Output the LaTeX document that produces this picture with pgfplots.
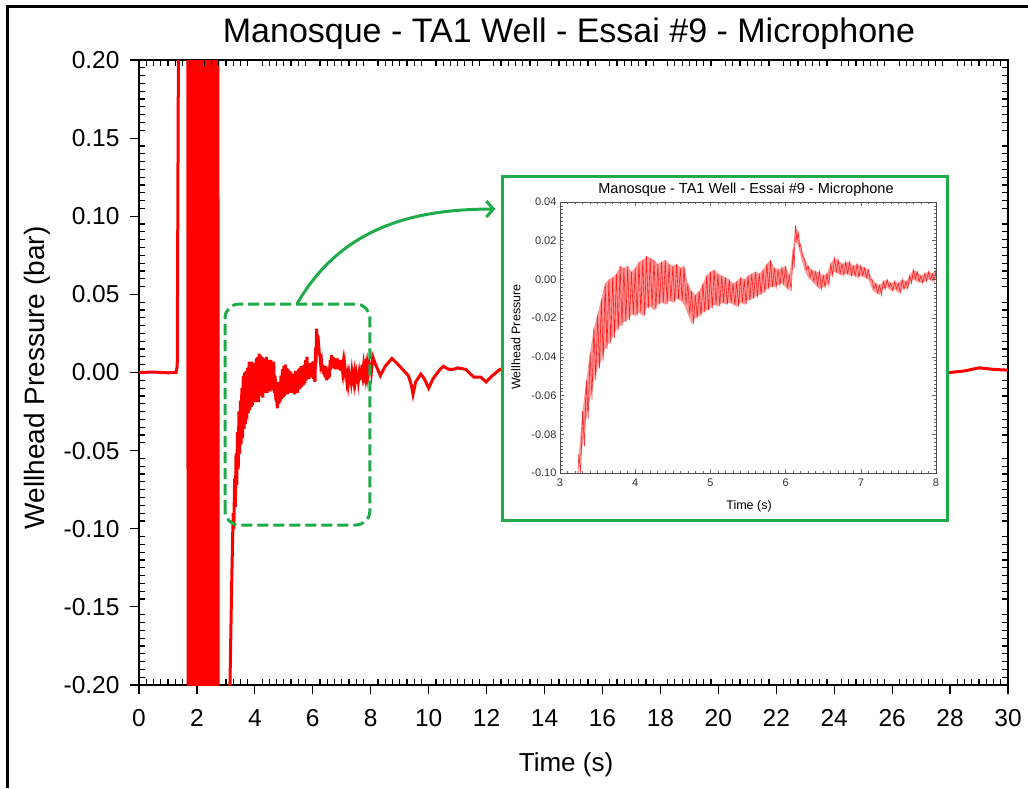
\documentclass[border=0pt]{standalone}
\usepackage{fontspec}
\setmainfont{Liberation Sans}
\usepackage{pgfplots}
\usepackage{pgfplotstable}
\pgfplotsset{compat=1.18}
\usetikzlibrary{arrows.meta}
\definecolor{callgreen}{RGB}{30,172,75}

% microphone trace, wellhead pressure (bar) vs time (s)
\pgfplotstableread{
t p
0.00 0.0000
0.50 0.0003
1.00 -0.0002
1.28 0.0000
1.32 0.004
1.38 0.30
1.66 0.30
1.68 0.40
1.70 -0.40
1.72 0.40
1.74 -0.40
1.76 0.40
1.78 -0.40
1.80 0.40
1.82 -0.40
1.84 0.40
1.86 -0.40
1.88 0.40
1.90 -0.40
1.92 0.40
1.94 -0.40
1.96 0.40
1.98 -0.40
2.00 0.40
2.02 -0.40
2.04 0.40
2.06 -0.40
2.08 0.40
2.10 -0.40
2.12 0.40
2.14 -0.40
2.16 0.40
2.18 -0.40
2.20 0.40
2.22 -0.40
2.24 0.40
2.26 -0.40
2.28 0.40
2.30 -0.40
2.32 0.40
2.34 -0.40
2.36 0.40
2.38 -0.40
2.40 0.40
2.42 -0.40
2.44 0.40
2.46 -0.40
2.48 0.40
2.50 -0.40
2.52 0.40
2.54 -0.40
2.56 0.40
2.58 -0.40
2.60 0.40
2.62 -0.40
2.64 0.40
2.66 -0.40
2.68 0.40
2.70 -0.40
2.72 0.40
2.74 -0.40
3.02 -0.30
3.14 -0.20
3.20 -0.135
3.250 -0.090
3.275 -0.100
3.300 -0.068
3.325 -0.086
3.350 -0.052
3.375 -0.072
3.400 -0.038
3.425 -0.062
3.450 -0.025
3.475 -0.052
3.500 -0.018
3.525 -0.046
3.550 -0.010
3.575 -0.042
3.600 -0.002
3.625 -0.036
3.650 0.000
3.675 -0.033
3.700 0.001
3.725 -0.030
3.750 0.003
3.775 -0.026
3.800 0.007
3.825 -0.024
3.850 0.006
3.875 -0.022
3.900 0.007
3.925 -0.021
3.950 0.004
3.975 -0.018
4.000 0.006
4.025 -0.019
4.050 0.009
4.075 -0.017
4.100 0.010
4.125 -0.019
4.150 0.012
4.175 -0.015
4.200 0.011
4.225 -0.014
4.250 0.010
4.275 -0.016
4.300 0.008
4.325 -0.013
4.350 0.009
4.375 -0.012
4.400 0.010
4.425 -0.013
4.450 0.008
4.475 -0.011
4.500 0.007
4.525 -0.012
4.550 0.008
4.575 -0.010
4.600 0.006
4.625 -0.011
4.650 0.007
4.675 -0.013
4.700 -0.002
4.725 -0.018
4.750 -0.006
4.775 -0.023
4.800 -0.008
4.825 -0.020
4.850 -0.006
4.875 -0.019
4.900 -0.002
4.925 -0.017
4.950 0.002
4.975 -0.016
5.000 0.004
5.025 -0.015
5.050 0.005
5.075 -0.013
5.100 0.003
5.125 -0.014
5.150 0.002
5.175 -0.012
5.200 0.001
5.225 -0.013
5.250 0.000
5.275 -0.012
5.300 -0.002
5.325 -0.013
5.350 -0.001
5.375 -0.014
5.400 0.001
5.425 -0.012
5.450 0.000
5.475 -0.013
5.500 0.002
5.525 -0.011
5.550 0.003
5.575 -0.010
5.600 0.004
5.625 -0.009
5.650 0.003
5.675 -0.008
5.700 0.005
5.725 -0.007
5.750 0.008
5.775 -0.005
5.800 0.010
5.825 -0.004
5.850 0.006
5.875 -0.004
5.900 0.005
5.925 -0.003
5.950 0.006
5.975 -0.002
6.000 0.007
6.025 -0.004
6.050 0.002
6.075 -0.006
6.100 0.016
6.115 0.006
6.130 0.028
6.150 0.020
6.170 0.024
6.185 0.017
6.200 0.018
6.225 0.012
6.250 0.011
6.275 0.005
6.300 0.007
6.325 0.001
6.350 0.005
6.375 -0.001
6.400 0.004
6.425 -0.003
6.450 0.004
6.475 -0.005
6.500 0.002
6.525 -0.004
6.550 0.003
6.575 -0.003
6.600 0.008
6.625 0.002
6.650 0.011
6.675 0.004
6.700 0.010
6.725 0.003
6.750 0.008
6.775 0.002
6.800 0.009
6.825 0.003
6.850 0.009
6.875 0.002
6.900 0.007
6.925 0.002
6.950 0.008
6.975 0.001
7.000 0.007
7.025 0.002
7.050 0.006
7.075 0.001
7.100 0.005
7.125 0.000
7.150 0.000
7.175 -0.005
7.200 -0.002
7.225 -0.007
7.250 -0.003
7.275 -0.008
7.300 -0.001
7.325 -0.005
7.350 0.000
7.375 -0.004
7.400 -0.002
7.425 -0.006
7.450 -0.001
7.475 -0.005
7.500 -0.002
7.525 -0.007
7.550 0.000
7.575 -0.005
7.600 -0.001
7.625 -0.005
7.650 0.002
7.675 -0.002
7.700 0.005
7.725 0.000
7.750 0.004
7.775 -0.001
7.800 0.002
7.825 -0.002
7.850 0.003
7.875 -0.001
7.900 0.004
7.925 0.000
7.950 0.003
7.975 -0.001
8.000 0.005
8.025 0.001
8.07 0.010
8.15 0.006
8.33 -0.002
8.50 0.004
8.73 0.009
8.90 0.006
9.10 0.002
9.30 -0.002
9.40 -0.008
9.46 -0.014
9.55 -0.006
9.73 -0.001
9.85 -0.004
10.00 -0.010
10.15 -0.004
10.35 0.001
10.50 0.004
10.70 0.002
10.84 0.002
11.00 0.003
11.28 0.002
11.45 -0.001
11.56 -0.003
11.80 -0.003
11.98 -0.006
12.20 -0.002
12.46 0.002
13.00 0.001
20.00 0.001
27.50 0.000
28.00 0.000
28.50 0.001
29.00 0.003
29.50 0.002
30.00 0.0015
}\sig

% upper and lower edge of the noise band, 3.25 s to 8 s
\pgfplotstableread{
t top bot
3.25 -0.090 -0.100
3.30 -0.068 -0.086
3.35 -0.052 -0.072
3.40 -0.038 -0.062
3.45 -0.025 -0.052
3.50 -0.018 -0.046
3.55 -0.010 -0.042
3.60 -0.002 -0.036
3.65 0.000 -0.033
3.70 0.001 -0.030
3.75 0.003 -0.026
3.80 0.007 -0.024
3.85 0.006 -0.022
3.90 0.007 -0.021
3.95 0.004 -0.018
4.00 0.006 -0.019
4.05 0.009 -0.017
4.10 0.010 -0.019
4.15 0.012 -0.015
4.20 0.011 -0.014
4.25 0.010 -0.016
4.30 0.008 -0.013
4.35 0.009 -0.012
4.40 0.010 -0.013
4.45 0.008 -0.011
4.50 0.007 -0.012
4.55 0.008 -0.010
4.60 0.006 -0.011
4.65 0.007 -0.013
4.70 -0.002 -0.018
4.75 -0.006 -0.023
4.80 -0.008 -0.020
4.85 -0.006 -0.019
4.90 -0.002 -0.017
4.95 0.002 -0.016
5.00 0.004 -0.015
5.05 0.005 -0.013
5.10 0.003 -0.014
5.15 0.002 -0.012
5.20 0.001 -0.013
5.25 0.000 -0.012
5.30 -0.002 -0.013
5.35 -0.001 -0.014
5.40 0.001 -0.012
5.45 0.000 -0.013
5.50 0.002 -0.011
5.55 0.003 -0.010
5.60 0.004 -0.009
5.65 0.003 -0.008
5.70 0.005 -0.007
5.75 0.008 -0.005
5.80 0.010 -0.004
5.85 0.006 -0.004
5.90 0.005 -0.003
5.95 0.006 -0.002
6.00 0.007 -0.004
6.05 0.002 -0.006
6.10 0.016 0.006
6.13 0.028 0.020
6.17 0.024 0.017
6.20 0.018 0.012
6.25 0.011 0.005
6.30 0.007 0.001
6.35 0.005 -0.001
6.40 0.004 -0.003
6.45 0.004 -0.005
6.50 0.002 -0.004
6.55 0.003 -0.003
6.60 0.008 0.002
6.65 0.011 0.004
6.70 0.010 0.003
6.75 0.008 0.002
6.80 0.009 0.003
6.85 0.009 0.002
6.90 0.007 0.002
6.95 0.008 0.001
7.00 0.007 0.002
7.05 0.006 0.001
7.10 0.005 0.000
7.15 0.000 -0.005
7.20 -0.002 -0.007
7.25 -0.003 -0.008
7.30 -0.001 -0.005
7.35 0.000 -0.004
7.40 -0.002 -0.006
7.45 -0.001 -0.005
7.50 -0.002 -0.007
7.55 0.000 -0.005
7.60 -0.001 -0.005
7.65 0.002 -0.002
7.70 0.005 0.000
7.75 0.004 -0.001
7.80 0.002 -0.002
7.85 0.003 -0.001
7.90 0.004 0.000
7.95 0.003 -0.001
8.00 0.005 0.001
}\env

\begin{document}
\begin{tikzpicture}
\path[use as bounding box] (0pt,0pt) rectangle (1028pt,-788pt);
\draw[line width=3pt] (7pt,-788pt) -- (7pt,-6pt) -- (1028pt,-6pt);

\node[font=\fontsize{34}{40}\selectfont] at (569pt,-34pt) {Manosque - TA1 Well - Essai \#9 - Microphone};
\node[font=\fontsize{26}{30}\selectfont] at (566pt,-765pt) {Time (s)};
\node[font=\fontsize{28}{32}\selectfont, rotate=90] at (37pt,-378pt) {Wellhead Pressure (bar)};

% noise band of the main plot (stacked area between lower and upper edge)
\begin{axis}[
    at={(139pt,-685pt)}, anchor=south west,
    scale only axis, width=869pt, height=625pt,
    xmin=0, xmax=30, ymin=-0.2, ymax=0.2,
    hide axis, stack plots=y,
]
\addplot[draw=none] table[x=t, y=bot] {\env};
\addplot[fill=red, draw=none] table[x=t, y expr=\thisrow{top}-\thisrow{bot}] {\env} \closedcycle;
\end{axis}

\begin{axis}[
    at={(139pt,-685pt)}, anchor=south west,
    scale only axis, width=869pt, height=625pt,
    xmin=0, xmax=30, ymin=-0.2, ymax=0.2,
    xtick={0,2,...,30},
    ytick={-0.20,-0.15,-0.10,-0.05,0,0.05,0.10,0.15,0.20},
    minor x tick num=7, minor y tick num=9,
    xtick pos=left, ytick pos=left,
    tick align=outside, major tick length=9pt, minor tick length=-6pt,
    axis line style={line width=1.5pt},
    every tick/.style={black, line width=1.2pt},
    ticklabel style={font=\fontsize{24.5}{28}\selectfont},
    xticklabel style={yshift=-12pt},
    yticklabel style={xshift=-7pt},
    /pgf/number format/assume math mode=true,
    scaled y ticks=false,
    yticklabel style={/pgf/number format/fixed, /pgf/number format/fixed zerofill, /pgf/number format/precision=2},
]
\addplot[red, line width=3pt] table {\sig};
\draw[callgreen, line width=3pt, dash pattern=on 11pt off 5pt, rounded corners=14pt]
    (axis cs:2.97,-0.0976) rectangle (axis cs:7.97,0.0438);
\draw[callgreen, line width=3pt, -{Straight Barb[length=7pt,width=16pt]}]
    (axis cs:5.45,0.0438) to[out=60,in=180] (axis cs:12.3,0.1046);
\end{axis}

% inward minor ticks on the top and right sides
\begin{axis}[
    at={(139pt,-685pt)}, anchor=south west,
    scale only axis, width=869pt, height=625pt,
    xmin=0, xmax=30, ymin=-0.2, ymax=0.2,
    xtick={0,2,...,30},
    ytick={-0.20,-0.15,-0.10,-0.05,0,0.05,0.10,0.15,0.20},
    minor x tick num=7, minor y tick num=9,
    xtick pos=right, ytick pos=right,
    tick align=inside, major tick length=0pt, minor tick length=6pt,
    axis line style={draw=none},
    xticklabels={}, yticklabels={},
    every tick/.style={black, line width=1.2pt},
]
\end{axis}

\fill[white] (502pt,-176pt) rectangle (947pt,-520pt);
\draw[callgreen, line width=3pt] (502pt,-176pt) rectangle (947pt,-520pt);

\node[font=\fontsize{14.5}{17}\selectfont] at (746pt,-190pt) {Manosque - TA1 Well - Essai \#9 - Microphone};
\node[font=\fontsize{12.5}{15}\selectfont] at (749pt,-506pt) {Time (s)};
\node[font=\fontsize{12.5}{15}\selectfont, rotate=90] at (516pt,-337pt) {Wellhead Pressure};

% noise band of the inset
\begin{axis}[
    at={(560pt,-473pt)}, anchor=south west,
    scale only axis, width=376pt, height=271pt,
    xmin=3, xmax=8, ymin=-0.10, ymax=0.04,
    hide axis, stack plots=y,
]
\addplot[draw=none] table[x=t, y=bot] {\env};
\addplot[fill=red!40, draw=none] table[x=t, y expr=\thisrow{top}-\thisrow{bot}] {\env} \closedcycle;
\end{axis}

\begin{axis}[
    at={(560pt,-473pt)}, anchor=south west,
    scale only axis, width=376pt, height=271pt,
    xmin=3, xmax=8, ymin=-0.10, ymax=0.04,
    xtick={3,4,5,6,7,8},
    ytick={-0.10,-0.08,-0.06,-0.04,-0.02,0,0.02,0.04},
    minor x tick num=9, minor y tick num=9,
    tick align=inside, major tick length=4pt, minor tick length=2.5pt,
    axis line style={black!70, line width=0.8pt},
    every tick/.style={black!60, line width=0.6pt},
    ticklabel style={font=\fontsize{11}{13}\selectfont, text=black!80},
    xticklabel style={yshift=-2pt},
    /pgf/number format/assume math mode=true,
    scaled y ticks=false,
    yticklabel style={/pgf/number format/fixed, /pgf/number format/fixed zerofill, /pgf/number format/precision=2},
]
\addplot[red, opacity=0.8, line width=0.6pt] table {\sig};
\end{axis}
\end{tikzpicture}
\end{document}
